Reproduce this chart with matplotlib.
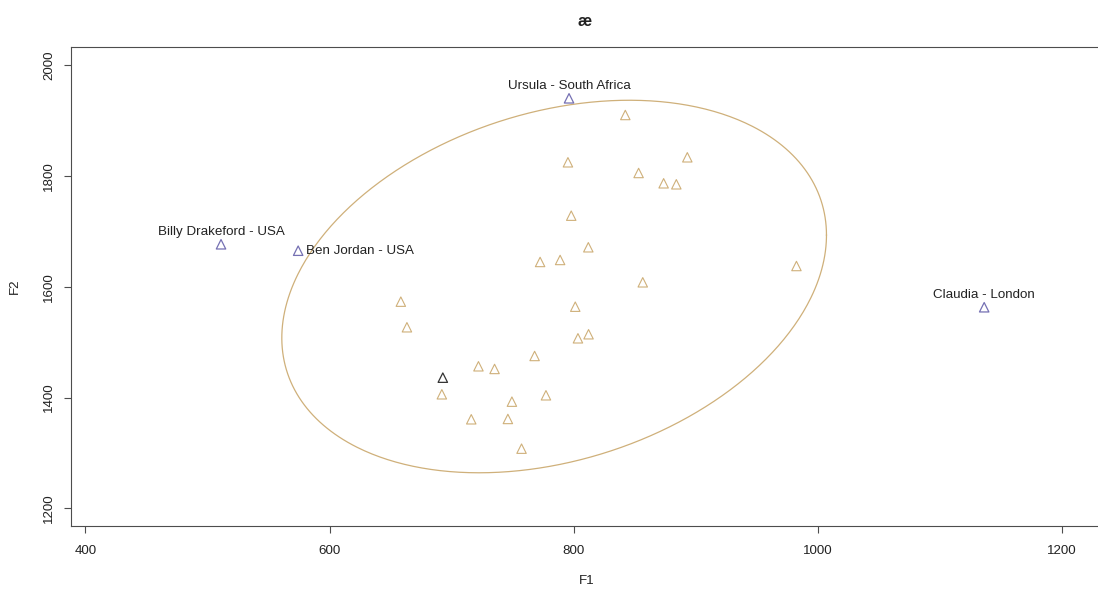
import numpy as np
import matplotlib
matplotlib.use("Agg")
import matplotlib.pyplot as plt

plt.rcParams["font.family"] = ["Liberation Sans", "DejaVu Sans"]

# Formant measurements (F1, F2) for the main speaker group
f1_group = [842.3, 795.3, 893.1, 853.2, 873.7, 884.1, 798.0, 812.0, 788.9,
            772.5, 856.6, 982.5, 801.3, 658.4, 663.4, 812.2, 803.5, 768.0,
            722.0, 735.2, 692.0, 749.4, 777.3, 716.1, 746.1, 757.3]
f2_group = [1909.8, 1824.5, 1833.5, 1805.2, 1786.6, 1784.8, 1728.2, 1671.2,
            1648.3, 1644.7, 1608.0, 1637.4, 1564.0, 1573.1, 1526.9, 1514.3,
            1507.0, 1475.1, 1456.5, 1451.7, 1406.0, 1392.7, 1404.2, 1360.9,
            1361.5, 1307.9]

# Reference token
f1_ref = [692.8]
f2_ref = [1436.0]

# Named speakers
speaker_names = ["Ursula - South Africa", "Billy Drakeford - USA",
                 "Ben Jordan - USA", "Claudia - London"]
speaker_f1 = [796.2, 511.1, 574.3, 1136.3]
speaker_f2 = [1939.9, 1676.6, 1665.0, 1563.0]
label_pos = ["above", "above", "right", "above"]

# Group ellipse: centre, spread along each axis, correlation
ellipse_center = (784.0, 1600.4)
ellipse_spread = (223.1, 336.0)
ellipse_corr = 0.276

x_ticks = [400, 600, 800, 1000, 1200]
y_ticks = [1200, 1400, 1600, 1800, 2000]

tan = "#cfb07a"
purple = "#7570b3"
axis_col = "#4d4d4d"
fs = 9.6

fig = plt.figure(figsize=(10.98, 5.93), dpi=100)
ax = fig.add_axes([71 / 1098, 1 - 525.5 / 593, 1030 / 1098, (525.5 - 46.7) / 593])

ax.scatter(f1_group, f2_group, marker="^", s=46, facecolors="none",
           edgecolors=tan, linewidths=0.8, zorder=3)
ax.scatter(f1_ref, f2_ref, marker="^", s=46, facecolors="none",
           edgecolors="#333333", linewidths=0.9, zorder=3)
ax.scatter(speaker_f1, speaker_f2, marker="^", s=46, facecolors="none",
           edgecolors=purple, linewidths=0.9, zorder=3)

t = np.linspace(0, 2 * np.pi, 500)
cx, cy = ellipse_center
sx, sy = ellipse_spread
ex = cx + sx * np.cos(t)
ey = cy + sy * (ellipse_corr * np.cos(t) + np.sqrt(1 - ellipse_corr ** 2) * np.sin(t))
ax.plot(ex, ey, color=tan, lw=0.9, zorder=2)

for name, x, y, pos in zip(speaker_names, speaker_f1, speaker_f2, label_pos):
    if pos == "above":
        ax.annotate(name, (x, y), xytext=(0, 12), textcoords="offset pixels",
                    ha="center", va="center", fontsize=fs, color="#222222")
    else:
        ax.annotate(name, (x, y), xytext=(8, 0), textcoords="offset pixels",
                    ha="left", va="center", fontsize=fs, color="#222222")

ax.set_xlim(388.2, 1232)
ax.set_ylim(1169.3, 2033)
ax.set_xticks(x_ticks)
ax.set_yticks(y_ticks)
ax.tick_params(axis="both", length=5, width=0.8, color=axis_col,
               labelsize=fs, labelcolor="#222222")
ax.tick_params(axis="x", pad=9.0)
ax.tick_params(axis="y", pad=6.2)
for lab in ax.get_yticklabels():
    lab.set_rotation(90)
    lab.set_va("center")
for sp in ax.spines.values():
    sp.set_color(axis_col)
    sp.set_linewidth(0.8)

fig.text(585 / 1098, 1 - 21 / 593, "æ", ha="center", va="center",
         fontsize=11.5, fontweight="bold", color="#222222")
fig.text(587 / 1098, 1 - 581 / 593, "F1", ha="center", va="center",
         fontsize=fs, color="#222222")
fig.text(15 / 1098, 1 - 286 / 593, "F2", ha="center", va="center",
         rotation=90, fontsize=fs, color="#222222")

fig.savefig("out.png", dpi=100)
